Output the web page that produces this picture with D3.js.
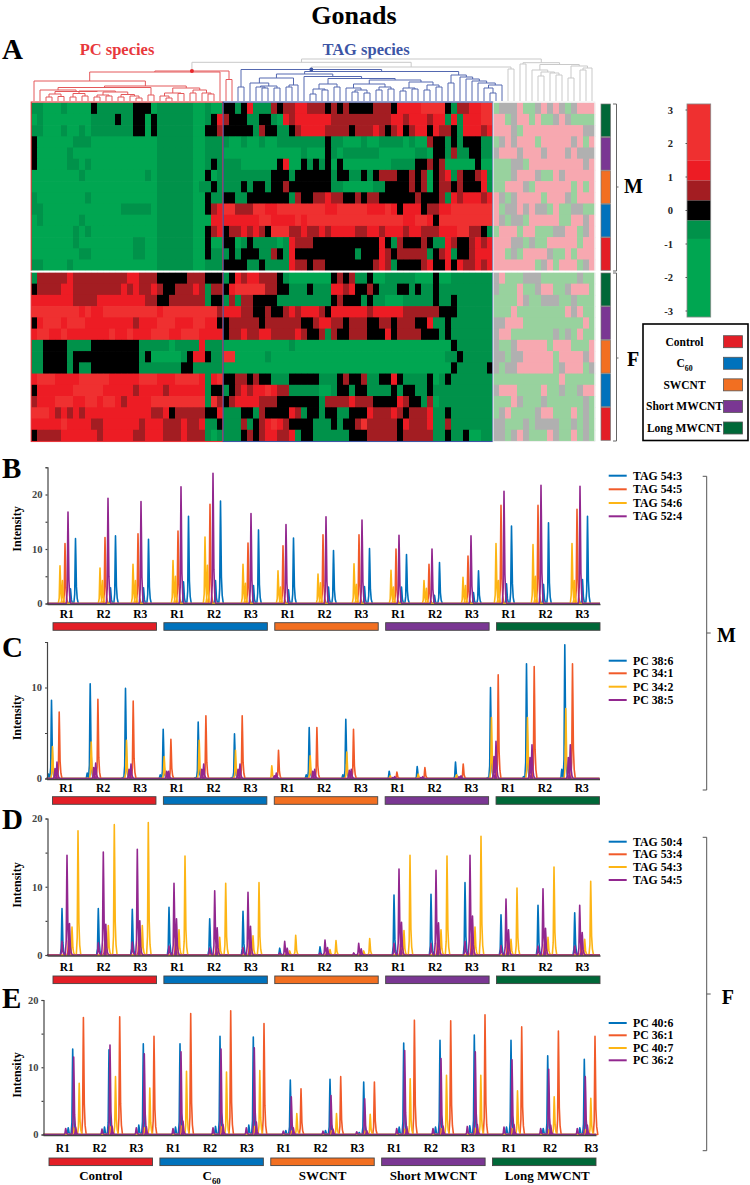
<!DOCTYPE html>
<html>
<head>
<meta charset="utf-8">
<script src="https://cdn.jsdelivr.net/npm/d3@7"></script>
<style>
  html, body { margin: 0; padding: 0; background: #fff; }
  svg { display: block; }
  text { font-family: "Liberation Serif", serif; font-weight: bold; }
</style>
</head>
<body>
<div id="chart"></div>
<script>
// heat map cells, one char per column: g d k r R B = scaled level, P L Y = non significant
const HEAT_CODES = ['g', 'd', 'k', 'r', 'R', 'B', 'P', 'L', 'Y'];
const HEAT_COLORS = ['#00a651', '#00924a', '#000000', '#a31d22', '#ed1c24', '#ef3030', '#f7a8b0', '#98d29e', '#b0b0b0'];

const malePC = [
  'ddgggdggggkddddddkkkgddddddggdgg', 'gdggggggggddddkddkkgkddddddggdkR', 'ddgggdggdgdddddddkkgkddddddggkkr',
  'kggggggdddgggggggggggddddddggddd', 'kgggggdggggggggggggggddddddggddd', 'kgggggddgdgggggggggggddddddggdkd',
  'ggggggggdggggggggggdgddddddggkgd', 'gggggggggggggggggggggddddddgddkd', 'dggggggggdgggggggggggddddddggkdd',
  'ddgggggggggggggdddddgddddddggkrR', 'gdggggggdggggggggggggddddddgggRR', 'gggggggdgdgggggggggggddddddggkrR',
  'gggggggdgggggggggddggddddddggkgg', 'ggggggggddgggggggddggddddddggkdd', 'ddggggdggggggggggggggddddddggddd'
];
const maleTAG = [
  'kkdkRdddrkrrRRrrrkrkrkkkkrrrkRRRRBBBBkdrrRRBB', 'rkkkddkkdgRrRRRRRRrrrrrrrrrrRRrRRRrRRdRdRRRBB', 'kkkkkdrkkddkrRRRRrrrrkrrrRrkrRkrRRkRrrkdRRRrR',
  'dggdggdggddddddddkddgggdggddddgdggrkkdkdkkkdd', 'gggggggggggggdgggkdgddddddggggggddgkkdrddkkdd', 'dddggggggkRggkdkdkgkggggggggddddkkrkrgggggkgg',
  'ddddddddkkkdkkkkkkdkkddkdkrrrkkrkrgkrRdrkkrRd', 'dddkdkkdkkrkkkkkkkddgggggddkkkkrkrgkrrkrkkkRd', 'kkddkkkkkkkdrkkrrRrrkkrkrrkkkkkkrkkkrdRrRRRrR',
  'BBrrrBBRRBBBBBBBBRRBBBBBRRRBRkRRRkrrRRBBBBBBB', 'RRRRRRBBRRRRBRBBBBBBBBBBBBBBBBRRBBRkBBBBBBBBB', 'krrRrRrkBBBrrRrrRrRRRRrrRRrRRRrRRrrrRRRBBrrkd',
  'kkgdkddddgdRrrrkkkkkkkkkkkRkdrkkkrkddRrkkrRrR', 'dkdkkkddrkdRkkkkkkkkkkdkkkRrkrrrrrdkrRdkkrRRR', 'kkkkddkddddRrrkrrkkkkkkkkrRrdkkkkrRkkRkRrrRrR'
];
const maleOther = [
  'LYYYPLLYPYPYLYPPP', 'PPLYPPLPLLYPYLLLL', 'PPPYLPPPPPPPPPPYY', 'LYPYPPPLPPPPPYPLP', 'YPPPYPPPYPPPYPYYY',
  'LLLYYLPPPPPPPPPYP', 'LLLYPPPYLLPYPPPPP', 'LLPPPYLPPPPPPLPLP', 'PYLYPPPPLPPPYLPPP', 'PLYYPYPYYLPLLYYLL',
  'PYLYYLPPPPPLLPPYP', 'LPPPLPPLLLYYPPLYP', 'PPPYYLYLLPPPPPLPP', 'PPLYLPPPPYLLPLPPP', 'PPPPPPPLYPLPPPLYP'
];
const femalePC = [
  'drrrrrRrrrrrrrrrRRrrrkkkkkrrrkkk', 'krrrrRRrrrrrrrrRrRrrRrkkrrrRrdrr', 'RRRRRRRrrrrRRRRRRRRrrkkrrrrrrdkk',
  'BBBBBBBBRBRRBBBBBBBBBRBBBBBBBBBr', 'kRBBBRBBBRRRRRRRRrRRRBBBRRRBBRRk', 'RBBRRBRRRRRRRBRRBRRRBBBRRBBBRRRR',
  'ddkkkkddddkkkkkkkkdddddgddddRddd', 'ddkkkkdkkkkkkkkkkkdkgggggdkRRkdd', 'ddkkkkdkddkkkkkkkkdddddddkkddddd',
  'RBBBRRRRBBBBBRRRRRBBBRRRBBBBRdRB', 'kRRRRRRBBBBBRRRRRrRRRRrRRRRRRdkk', 'rRRRBBBRRBBRBBRrRRRRBBBBBBBBBdBr',
  'BBBRrRrRrRRRRRRRRRRRrrRkrrrrrkkR', 'RRRRRBRRRRrrRRRRRRrRRRrrrRrrRddk', 'krrrrRRRRRRrRRRRRrrRRRrrrRrrrdgd'
];
const femaleTAG = [
  'dkRrRRrrrkdgggggggkrkrddkggdddddgggkggddddddd', 'kRBBBBBrrkkdddkdddRRrRkkrkdddkkdkddkddddddddd', 'drdrrkkkkdddddddddkrkkkdkddgggdddddkddkdddddd',
  'RRRrrkkrkkrRrRRRrkRRRRRRrRRRRRrrrrrrkkkdddddd', 'krrrrrkrrrrrrkkrRRrrkrrrkkrrkrrrkkRddkddddddd', 'krrRrrRRrrrrRrkkrdrkkrrrkkkRkrrrrkkkdkddddddd',
  'gggggggggggdggggggggggggggggggggggggggkdddddd', 'BBgggggdgggggggggggggggggggggggggggggddkddddd', 'ggggggggggggggggggggggggggggggggggggggkdddddk',
  'kkrrkrkkdddkkkkkdddkrkkrddkkRkddddkgdkddddddd', 'dkrRrRRBRrrdddddggdkkdkkddddkdkkddkdddddddddd', 'krRRRRrrrkkkkkkkdrrrrRrrrkkkkRrkkdrgddddddddd',
  'dddkkdrkkkkRrdkkdkkddkkkRrrrRrkrrrRddkddddddd', 'dddrdkrRBRrkkkkdddkdkkrBrrrrrkRrrrRddrddddddd', 'dddkrkrRRrrRdkkddddddkkkrrrrrkrrrrrddkddkggdd'
];
const femaleOther = [
  'YPLLLYYYLLLLLLYLL', 'YLLLPLLYPPLLYPPPL', 'LLLLPYLLYYYLLYLLL', 'LLLPLLLLLLLLPYPLL', 'YYPPPLLLLLLLLLLPL',
  'YPPLLLLLLLYLYLPLL', 'YLLYPPPPPLPPPLLLP', 'YYLYYPPPPPLPPPPYP', 'YLYYPPPPPPLYPPPLY', 'LLLLLLLLLLLPLLLLL',
  'YPPPLLLLPLLYLLYPP', 'LLLPYLLLYLLLLLLYL', 'LYPLLLLYPPLLLPLYL', 'YYLLLYLYYYYLLYLYL', 'YYLYPYLLLPYLLPLYL'
];

// clustering trees: [height, left, right], 0 = leaf
const pcTree = [30,
  [29,
    [20, 0,
      [15,
        [13.5,
          [11, 0,
            [9.5,
              [7, [4, 0, 0], [4.5, 0, 0]],
              [10,
                [7.5, [4, 0, 0], [5, 0, 0]],
                [9, [6, [4, 0, 0], [5, 0, 0]], [6.5, [4, 0, 0], [5, 0, [3, 0, 0]]]]]]],
          [6, 0, 0]],
        [13, [8, [5, 0, [3, 0, 0]], [7.5, 0, 0]], [11, [8, 0, 0], [8, 0, [7, 0, 0]]]]]],
    0],
  [21.5, 0, 0]];
const tagTree = [31.5,
  [14, 0, 0],
  [29.5,
    [27,
      [23, [18, 0, [15, [14, 0, [13, 0, 0]], [13, 0, 0]]], [16, [14, 0, 0], 0]],
      [24.5, 0,
        [22.5,
          [17, [12, [7, 0, 0], [11, 0, 0]], [14, 0, 0]],
          [21,
            [17, [13, 0, [11, [9, 0, 0], [8, 0, 0]]], [14, [11, 0, 0], [12, 0, 0]]],
            [19, [13, [10, 0, 0], [12, 0, 0]], [16, [11, 0, 0], [14, 0, 0]]]]]]],
    [26, [18, 0, 0], [24, 0, [22, 0, [20, 0, [18, 0, [16, [13, 0, [8, 0, 0]], 0]]]]]]]];
const otherTree = [38.3,
  [37, 0, 0],
  [36.5,
    [31, 0, [29, [25, 0, 0], [28, 0, [26, 0, 0]]]],
    [35, [23, 0, 0], [33, [31, 0, 0], [30, 0, [26, 0, 0]]]]]];
const fullTree = [42, [38.7, pcTree, [34, tagTree, [32, 0, 0]]], otherTree];

const treatments = ['Control', 'C60', 'SWCNT', 'Short MWCNT', 'Long MWCNT'];
const treatmentColors = ['#e31e26', '#0072bc', '#f26f21', '#7a3793', '#006838'];
const replicates = ['R1', 'R2', 'R3'];
const colorBarStops = [3.18, 1.5, 0.9, 0.3, -0.3, -0.85, -3.18];
const colorBarCodes = ['B', 'R', 'r', 'k', 'd', 'g'];
const colorBarTicks = [3, 2, 1, 0, -1, -2, -3];

// peak apex readings, 15 injections (R1..R3 x 5 treatments)
const bTimes = [21, 61, 94, 134, 166, 204, 239, 279, 315, 352, 385, 424, 457, 494, 533];
const bBlue = [11.9, 12.4, 11.8, 16, 18.8, 13.5, 12, 9.7, 10.1, 9, 7.5, 6, 14.2, 14.8, 16];
const bBlue2 = [2.7, 2.9, 2.9, 4, 4.2, 3.3, 2.5, 3, 3.1, 3, 1.5, 2, 3.6, 3.5, 4.4];
const bRed = [11, 12.1, 12.8, 13.3, 18.2, 11.1, 10.6, 12.6, 12.6, 10, 7.2, 8.7, 18, 18, 17.3];
const bYellow = [6.9, 6.5, 7.2, 7.9, 12.2, 7.2, 6, 5.4, 7.3, 6.1, 4.2, 4.8, 11, 10.8, 11];
const bYellow2 = [4.2, 4.2, 4.2, 5, 7, 3.7, 3, 3.8, 3.5, 3, 2.8, 3.3, 4.2, 5, 4.2];
const bPurple = [16.8, 19.3, 18.7, 21.4, 23.9, 16.5, 14.5, 15.9, 15.3, 12.5, 10, 12.4, 20.6, 21.7, 21.5];

const cTimes = [5, 43.7, 79, 116.7, 151.7, 188, 224.3, 262.7, 299.3, 342.7, 370.7, 409, 444, 480, 518.3];
const cBlue = [8.6, 10.4, 9.9, 5.4, 6.2, 4.9, 0, 5.6, 6.5, 0.8, 1.3, 1.8, 10, 12.6, 14.7];
const cBlue2 = [0.5, 0.6, 0.1, 0.4, 0.1, 0.1, 0, 0.4, 0.4, 0, 0, 0, 0.1, 0.2, 1];
const cRed = [7.3, 8.7, 8.5, 4.3, 6.9, 6.9, 3.1, 5.6, 5.4, 0.7, 1.2, 1.6, 11.4, 12.3, 12.6];
const cYellow = [3.5, 4, 4.2, 2.4, 4.2, 3.1, 1.4, 2.5, 2.9, 0.3, 0.5, 0.4, 6.7, 6.7, 7.7];
const cPurple = [1.8, 1.7, 1.6, 0.8, 1.6, 1.6, 0.6, 1, 1, 0.2, 0.2, 0.3, 4.1, 3.7, 3.7];
const cPurple2 = [1.1, 1.2, 1, 0.8, 1, 1, 0.3, 0.8, 0.9, 0.1, 0.1, 0.2, 2.4, 2.3, 2.3];

const dTimes = [20, 56.3, 90.3, 127, 167.7, 201, 237.7, 278, 311.7, 352, 389, 423, 459, 496, 532.7];
const dBlue = [6.8, 6.8, 6.7, 7, 5.3, 6.4, 1, 1.2, 0, 8.8, 8.9, 10.6, 5.9, 7.3, 6.2];
const dRed = [2.1, 1.9, 2.5, 2.1, 1.3, 2, 0.2, 0.3, 0.2, 1.6, 1.8, 2.8, 1.9, 1.6, 2];
const dYellow = [18.2, 19.1, 19.4, 14.5, 10.5, 10.6, 2.9, 2.1, 2.4, 14.6, 14.5, 17.4, 9.8, 12.9, 10.8];
const dYellow2 = [4.1, 4.3, 4.3, 3.7, 2.6, 2.8, 0.6, 0.8, 0.6, 3.6, 3.7, 4.1, 2.3, 2.6, 2.3];
const dPurple = [14.6, 15.1, 15.5, 10.5, 9.4, 9.2, 2, 2.2, 1.7, 12.6, 12.4, 14.6, 8.2, 9.7, 7.3];
const dPurple2 = [4.6, 4.5, 5, 5.3, 4, 4.2, 1, 1.1, 0.9, 4.8, 4.7, 5.7, 3.7, 3.9, 3.3];
const dPurple3 = [2, 1.8, 1.9, 1.3, 1, 1.1, 0.3, 0.3, 0.3, 1.7, 1.7, 2, 1.4, 1.3, 1.3];

const eTimes = [29.7, 66, 100.3, 137, 177, 210.3, 247.3, 287, 320.7, 360.7, 397, 431.3, 468, 504.7, 541.3];
const eBlue = [12.7, 12.6, 13.5, 13.5, 14.6, 14.5, 8.1, 8.2, 7.8, 13.6, 14, 14.8, 14, 11.7, 11.2];
const eBlue2 = [1, 1.1, 1.4, 1.1, 1.2, 1.4, 0.6, 0.6, 0.3, 1.1, 1.1, 1.3, 1.1, 0.9, 1];
const eRed = [17.4, 17.5, 14.6, 18, 18.4, 16.5, 6.8, 8.6, 7.8, 17, 16.9, 17.8, 16, 15.4, 14.6];
const eYellow = [7.6, 8.6, 6.9, 9.4, 9.3, 9.5, 3.1, 3.1, 3, 8.3, 8.8, 8.8, 6.5, 5.6, 5.4];
const eYellow2 = [1, 1.2, 1, 1.3, 1.2, 1.2, 0.5, 0.6, 0.6, 0.8, 0.9, 0.9, 0.9, 0.7, 0.7];
const ePurple = [11.5, 13.3, 12, 12.3, 12.7, 12.9, 5.6, 5.8, 5.3, 12.5, 11.3, 12.3, 11.1, 9.7, 8.6];
const ePurple2 = [0.9, 0.8, 1, 0.9, 1, 1, 0.5, 0.5, 0.4, 0.9, 0.9, 1.2, 1.1, 0.9, 0.9];
const ePurple3 = [1.1, 1.3, 1.2, 2, 1.5, 1.9, 1, 0.8, 0.6, 1.2, 1.3, 1.5, 1.5, 1.4, 1.4];

const BLUE = '#0072bc', ORANGE = '#f15a29', YELLOW = '#fdb515', PURPLE = '#92278f';
const TIME_MAX = 553;
// outline of one peak as [time offset, fraction of apex]
const peakShape = [[-1.7, 0], [-0.8, 0.14], [-0.3, 0.72], [0, 1], [0.35, 0.75], [0.9, 0.26], [1.7, 0.08], [2.8, 0]];

const panels = [
  { letter: 'B', letterY: 478, top: 467, zero: 603.5, yMax: 25, unit: 109 / 20, ticks: [0, 5, 10, 15, 20, 25], dx: 0,
    labelY: 529, repY: 617.7, barY: 622.7, times: bTimes, repDomain: [66.7, 582.3, 582.3],
    legendY: [475.7, 489.3, 503, 516.3],
    series: [
      { name: 'TAG 54:3', color: BLUE, peaks: [[7.5, bBlue], [2.5, bBlue2]] },
      { name: 'TAG 54:5', color: ORANGE, peaks: [[-3, bRed]] },
      { name: 'TAG 54:6', color: YELLOW, peaks: [[-8, bYellow], [-5.5, bYellow2]] },
      { name: 'TAG 52:4', color: PURPLE, peaks: [[0, bPurple]] }] },
  { letter: 'C', letterY: 657, top: 642, zero: 778.5, yMax: 15, unit: 136.5 / 15, ticks: [0, 5, 10, 15], dx: -0.5,
    labelY: 717.7, repY: 792, barY: 796.7, times: cTimes, repDomain: [66.3, 581.7, 581.7],
    legendY: [660.7, 673.3, 686.7, 700],
    series: [
      { name: 'PC 38:6', color: BLUE, peaks: [[0, cBlue], [-3, cBlue2]] },
      { name: 'PC 34:1', color: ORANGE, peaks: [[7.7, cRed]] },
      { name: 'PC 34:2', color: YELLOW, peaks: [[1, cYellow]] },
      { name: 'PC 38:5', color: PURPLE, peaks: [[5.5, cPurple], [3.5, cPurple2]] }] },
  { letter: 'D', letterY: 829, top: 818.5, zero: 955, yMax: 20, unit: 136.5 / 20, ticks: [0, 5, 10, 15, 20], dx: 0,
    labelY: 885, repY: 971, barY: 976, times: dTimes, repDomain: [66.7, 582.3, 582.3],
    legendY: [841.7, 854.3, 867, 880],
    series: [
      { name: 'TAG 50:4', color: BLUE, peaks: [[-5, dBlue]] },
      { name: 'TAG 53:4', color: ORANGE, peaks: [[1.5, dRed]] },
      { name: 'TAG 54:3', color: YELLOW, peaks: [[11, dYellow], [5, dYellow2]] },
      { name: 'TAG 54:5', color: PURPLE, peaks: [[0, dPurple], [2.5, dPurple2], [-5, dPurple3]] }] },
  { letter: 'E', letterY: 1008, top: 1000, zero: 1134.5, yMax: 20, unit: 134.5 / 20, ticks: [0, 5, 10, 15, 20], dx: -4,
    labelY: 1075, repY: 1152, barY: 1158, times: eTimes, repDomain: [62.7, 467.7, 591.3],
    legendY: [1023, 1035.3, 1048, 1060.3],
    series: [
      { name: 'PC 40:6', color: BLUE, peaks: [[0, eBlue], [-4.5, eBlue2]] },
      { name: 'PC 36:1', color: ORANGE, peaks: [[10.7, eRed]] },
      { name: 'PC 40:7', color: YELLOW, peaks: [[6.5, eYellow], [1, eYellow2]] },
      { name: 'PC 36:2', color: PURPLE, peaks: [[1, ePurple], [-7, ePurple2], [3, ePurple3]] }] }
];

const svg = d3.select('#chart').append('svg').attr('width', 750).attr('height', 1185);
const heatColor = d3.scaleOrdinal(HEAT_CODES, HEAT_COLORS);
const serifText = (sel, x, y, txt, size, anchor = 'start', fill = '#000') => sel.append('text')
  .attr('x', x).attr('y', y).attr('font-size', size).attr('text-anchor', anchor).attr('fill', fill).text(txt);

serifText(svg, 354, 23.5, 'Gonads', 26, 'middle');
serifText(svg, 2, 59, 'A', 29);
serifText(svg, 117, 55, 'PC species', 16.5, 'middle', '#e8383c');
serifText(svg, 366, 55, 'TAG species', 16.5, 'middle', '#3d55a5');

// heat map
const colX = d3.scaleBand().domain(d3.range(94)).range([31, 595]);
const rowM = d3.scaleBand().domain(d3.range(15)).range([102.7, 270.7]);
const rowF = d3.scaleBand().domain(d3.range(15)).range([272.4, 441]);
const heat = svg.append('g');
[[malePC, maleTAG, maleOther, rowM], [femalePC, femaleTAG, femaleOther, rowF]].forEach(([a, b, c, rowY]) => {
  const cells = a.flatMap((row, i) => (row + b[i] + c[i]).split('').map((code, j) => ({ i, j, code })));
  heat.append('g').selectAll('rect').data(cells).enter().append('rect')
    .attr('x', d => colX(d.j)).attr('y', d => rowY(d.i))
    .attr('width', colX.bandwidth() + 0.2)
    .attr('height', d => rowY.bandwidth() + (d.i < 14 ? 0.7 : 0))
    .attr('fill', d => heatColor(d.code));
});
const frames = [[0, 32, '#e8383c'], [32, 77, '#3d55a5'], [77, 94, '#efefef']];
svg.append('g').selectAll('rect').data(frames).enter().append('rect')
  .attr('x', d => colX(d[0]) + 0.2)
  .attr('y', 102)
  .attr('width', d => (d[1] < 94 ? colX(d[1]) : 595) - colX(d[0]) - 0.4)
  .attr('height', 339.5)
  .attr('fill', 'none').attr('stroke', d => d[2]).attr('stroke-width', 1.1);
svg.append('rect').attr('x', 30).attr('y', 270.7).attr('width', 566).attr('height', 1.7).attr('fill', '#fff');

// dendrogram
const dendroY = d3.scaleLinear().domain([0, 42]).range([101, 59]);
const root = d3.hierarchy(fullTree, d => (Array.isArray(d) ? d.slice(1) : null));
root.leaves().forEach((leaf, i) => { leaf.x = colX(i) + colX.bandwidth() / 2; });
root.eachAfter(d => { if (d.children) d.x = d3.mean(d.children, c => c.x); });
const nodeH = d => (Array.isArray(d.data) ? d.data[0] : 0);
const branchColor = d => {
  const chain = d.ancestors().map(a => a.data);
  if (chain.includes(pcTree)) return '#e4585a';
  if (chain.includes(tagTree)) return '#5468b0';
  return '#c9c9c9';
};
const dendro = svg.append('g').attr('fill', 'none').attr('stroke-width', 1);
root.descendants().filter(d => d.children).forEach(d => {
  const [a, b] = d.children;
  const path = d3.path();
  path.moveTo(a.x, dendroY(nodeH(a)));
  path.lineTo(a.x, dendroY(nodeH(d)));
  path.lineTo(b.x, dendroY(nodeH(d)));
  path.lineTo(b.x, dendroY(nodeH(b)));
  dendro.append('path').attr('d', path.toString()).attr('stroke', branchColor(d));
});
root.descendants().filter(d => d.data === pcTree || d.data === tagTree).forEach(d => {
  svg.append('circle').attr('cx', d.x).attr('cy', dendroY(nodeH(d))).attr('r', 2)
    .attr('fill', d.data === pcTree ? '#e8282c' : '#3d55a5');
});

// sex / treatment strips beside the heat map
const stripOrder = treatments.slice().reverse();
const stripColor = d3.scaleOrdinal(treatments, treatmentColors);
[[d3.scaleBand().domain(stripOrder).range([104, 271]), 'M', 187, 624, 193], [d3.scaleBand().domain(stripOrder).range([273, 441]), 'F', 358, 627, 366]]
  .forEach(([band, sex, tickY, labelX, labelY]) => {
    svg.append('g').selectAll('rect').data(stripOrder).enter().append('rect')
      .attr('x', 601).attr('y', d => band(d)).attr('width', 9.5).attr('height', band.bandwidth() - 0.7)
      .attr('fill', d => stripColor(d)).attr('stroke', '#777').attr('stroke-width', 0.7);
    const [y0, y1] = band.range();
    svg.append('path').attr('fill', 'none').attr('stroke', '#666').attr('stroke-width', 1)
      .attr('d', `M613,${y0}H616.5V${y1}H613M616.5,${tickY}H618.5`);
    serifText(svg, labelX, labelY, sex, 20);
  });

// colour bar
const barY = d3.scaleLinear().domain([3, -3]).range([110, 311]);
const barG = svg.append('g');
barG.selectAll('rect').data(colorBarCodes).enter().append('rect')
  .attr('x', 687).attr('width', 23.7)
  .attr('y', (d, i) => barY(colorBarStops[i]))
  .attr('height', (d, i) => barY(colorBarStops[i + 1]) - barY(colorBarStops[i]))
  .attr('fill', d => heatColor(d));
barG.append('rect').attr('x', 687).attr('y', barY(colorBarStops[0])).attr('width', 23.7)
  .attr('height', barY(colorBarStops[6]) - barY(colorBarStops[0]))
  .attr('fill', 'none').attr('stroke', '#888').attr('stroke-width', 0.8);
colorBarTicks.forEach(t => {
  serifText(barG, 673, barY(t) + 3.5, t, 10.5, 'end', '#222');
  barG.append('line').attr('x1', 685.5).attr('x2', 687).attr('y1', barY(t)).attr('y2', barY(t)).attr('stroke', '#555');
});

// legend box
const legend = svg.append('g');
legend.append('rect').attr('x', 643).attr('y', 324).attr('width', 105).attr('height', 116.5)
  .attr('fill', '#fff').attr('stroke', '#000').attr('stroke-width', 1.6);
const addTreatmentName = (sel, x, y, name, size) => {
  const t = serifText(sel, x, y, name === 'C60' ? 'C' : name, size, 'middle');
  if (name === 'C60') t.append('tspan').attr('dy', size * 0.3).attr('font-size', size * 0.68).text('60');
};
const legendRow = d3.scalePoint().domain(treatments).range([341.7, 428]);
treatments.forEach(name => {
  addTreatmentName(legend, 684.5, legendRow(name) + 4, name, 11.5);
  legend.append('rect').attr('x', 723.5).attr('y', legendRow(name) - 6).attr('width', 19).attr('height', 12)
    .attr('fill', stripColor(name)).attr('stroke', '#555').attr('stroke-width', 0.8);
});

// chromatograms
const line = d3.line();
panels.forEach(p => {
  const g = svg.append('g');
  const x = d3.scaleLinear().domain([0, TIME_MAX]).range([47 + p.dx, 600 + p.dx]);
  const y = d3.scaleLinear().domain([0, p.yMax]).range([p.zero, p.zero - p.yMax * p.unit]);

  serifText(svg, 2, p.letterY, p.letter, 29);
  serifText(g, 0, 0, 'Intensity', 12, 'middle').attr('x', null).attr('y', null)
    .attr('transform', `translate(21,${p.labelY}) rotate(-90)`);

  p.series.forEach(s => {
    const pts = [[0, 0]];
    const peaks = s.peaks.flatMap(([offset, values]) => values.map((v, i) => ({ t: p.times[i] + offset, v })));
    peaks.sort((a, b) => a.t - b.t).forEach(pk => {
      peakShape.forEach(([dt, f]) => pts.push([pk.t + dt, pk.v * f]));
    });
    pts.push([TIME_MAX, 0]);
    g.append('path').attr('fill', 'none').attr('stroke', s.color).attr('stroke-width', 1.6)
      .attr('stroke-linejoin', 'round')
      .attr('d', line(pts.map(([t, v]) => [x(t), y(v)])));
  });

  const yAxis = d3.axisLeft(y).tickValues(p.ticks).tickSize(2).tickPadding(3).tickFormat(d => (d % 10 ? '' : d));
  const yG = g.append('g').attr('transform', `translate(${47.5 + p.dx},0)`).call(yAxis);
  yG.selectAll('path,line').attr('stroke', '#444').attr('stroke-width', 1.2);
  yG.selectAll('text').attr('font-size', 10.5).attr('fill', '#444').attr('font-family', '"Liberation Serif", serif');
  const xAxis = d3.axisBottom(x).tickValues([]).tickSizeOuter(0);
  const xG = g.append('g').attr('transform', `translate(0,${p.zero + 0.5})`).call(xAxis);
  xG.selectAll('path').attr('stroke', '#444').attr('stroke-width', 1.4);

  const repX = d3.scaleLinear().domain([0, 11, 14]).range(p.repDomain[1] === p.repDomain[2]
    ? [p.repDomain[0], p.repDomain[0] + (p.repDomain[1] - p.repDomain[0]) * 11 / 14, p.repDomain[1]]
    : p.repDomain);
  d3.range(15).forEach(i => {
    serifText(g, repX(i), p.repY, replicates[i % 3], 11.5, 'middle');
  });
  const band = d3.scaleBand().domain(treatments).range([53 + p.dx, 600 + p.dx]).paddingInner(0.067);
  g.selectAll('rect.group').data(treatments).enter().append('rect').attr('class', 'group')
    .attr('x', d => band(d)).attr('y', p.barY).attr('width', band.bandwidth()).attr('height', 7.6)
    .attr('fill', d => stripColor(d)).attr('stroke', '#444').attr('stroke-width', 0.9);

  p.series.forEach((s, i) => {
    g.append('line').attr('x1', 608.7).attr('x2', 626.7).attr('y1', p.legendY[i]).attr('y2', p.legendY[i])
      .attr('stroke', s.color).attr('stroke-width', 2);
    serifText(g, 633, p.legendY[i] + 4, s.name, 11.8);
  });

  if (p.letter === 'E') {
    treatments.forEach(name => addTreatmentName(g, band(name) + band.bandwidth() / 2 - (name === 'Long MWCNT' ? -3 : 0), 1180, name, 13));
  }
});

// M / F brackets next to the chromatograms
[[476.3, 790, 633, 'M', 717, 641.7], [837.3, 1150.7, 994, 'F', 721.7, 1004]].forEach(([y0, y1, tickY, sex, tx, ty]) => {
  svg.append('path').attr('fill', 'none').attr('stroke', '#555').attr('stroke-width', 1)
    .attr('d', `M702.7,${y0}H706.7V${y1}H702.7M706.7,${tickY}H710.7`);
  serifText(svg, tx, ty, sex, 20);
});
</script>
</body>
</html>
